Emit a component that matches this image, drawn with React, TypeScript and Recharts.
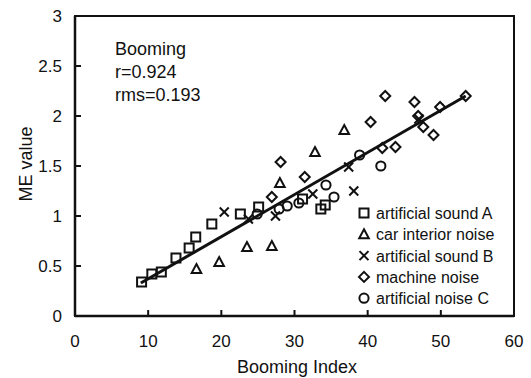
import React from 'react';
import { ScatterChart, Scatter, XAxis, YAxis, ReferenceLine, ReferenceArea } from 'recharts';

const seriesNames = ['artificial sound A', 'car interior noise', 'artificial sound B', 'machine noise', 'artificial noise C'];

const soundA: [number, number][] = [
  [9.1, 0.34], [10.5, 0.42], [11.8, 0.44], [13.8, 0.58], [15.6, 0.68], [16.5, 0.79],
  [18.7, 0.92], [22.6, 1.02], [25.1, 1.09], [31.1, 1.17], [33.6, 1.07], [34.2, 1.11],
];
const carInterior: [number, number][] = [
  [16.6, 0.47], [19.7, 0.54], [23.5, 0.69], [26.9, 0.70], [28.0, 1.33], [32.8, 1.64], [36.8, 1.86],
];
const soundB: [number, number][] = [
  [20.4, 1.04], [23.7, 0.97], [27.4, 1.00], [32.5, 1.22], [37.4, 1.49], [38.1, 1.25], [47.0, 1.97],
];
const machine: [number, number][] = [
  [26.9, 1.19], [28.1, 1.54], [31.4, 1.39], [40.4, 1.94], [42.0, 1.68], [43.8, 1.69], [42.4, 2.20],
  [46.4, 2.14], [46.9, 2.00], [47.6, 1.89], [49.0, 1.81], [49.9, 2.09], [53.4, 2.20],
];
const noiseC: [number, number][] = [
  [24.9, 1.02], [27.9, 1.07], [29.0, 1.10], [30.6, 1.13], [34.3, 1.31], [35.4, 1.19], [38.9, 1.61], [41.8, 1.50],
];

const fitX = [9.0, 53.4];
const fitY = [0.33, 2.2];

const xTicks = [0, 10, 20, 30, 40, 50, 60];
const yTicks = [0, 0.5, 1, 1.5, 2, 2.5, 3];

const annotation = ['Booming', 'r=0.924', 'rms=0.193'];

const toData = (arr: [number, number][]) => arr.map(([x, y]) => ({ x, y }));

const INK = '#111';
const FONT = 'Arial, "Liberation Sans", sans-serif';

type ShapeKind = 'square' | 'triangle' | 'cross' | 'diamond' | 'circle';
const kinds: ShapeKind[] = ['square', 'triangle', 'cross', 'diamond', 'circle'];

function Marker({ kind, cx, cy }: { kind: ShapeKind; cx: number; cy: number }) {
  const sw = 2;
  switch (kind) {
    case 'square':
      return <rect x={cx - 4.5} y={cy - 4.5} width={9} height={9} fill="none" stroke={INK} strokeWidth={sw} />;
    case 'triangle':
      return (
        <polygon
          points={`${cx},${cy - 5} ${cx + 4.8},${cy + 4} ${cx - 4.8},${cy + 4}`}
          fill="none"
          stroke={INK}
          strokeWidth={sw}
          strokeLinejoin="miter"
        />
      );
    case 'cross':
      return (
        <g stroke={INK} strokeWidth={sw}>
          <line x1={cx - 4.5} y1={cy - 4.5} x2={cx + 4.5} y2={cy + 4.5} />
          <line x1={cx - 4.5} y1={cy + 4.5} x2={cx + 4.5} y2={cy - 4.5} />
        </g>
      );
    case 'diamond':
      return (
        <polygon
          points={`${cx},${cy - 5} ${cx + 5},${cy} ${cx},${cy + 5} ${cx - 5},${cy}`}
          fill="none"
          stroke={INK}
          strokeWidth={sw}
        />
      );
    case 'circle':
    default:
      return <circle cx={cx} cy={cy} r={4.6} fill="none" stroke={INK} strokeWidth={sw} />;
  }
}

const makeShape = (kind: ShapeKind) => (props: any) => {
  const { cx, cy } = props;
  if (cx == null || cy == null) return <g />;
  return <Marker kind={kind} cx={cx} cy={cy} />;
};

const XTick = (props: any) => {
  const { x, y, payload } = props;
  return (
    <g>
      <line x1={x} y1={y} x2={x} y2={y - 6} stroke={INK} strokeWidth={2} />
      <text x={x} y={y + 31} textAnchor="middle" fontSize={17} fontFamily={FONT} fill={INK}>
        {payload.value}
      </text>
    </g>
  );
};

const YTick = (props: any) => {
  const { x, y, payload } = props;
  return (
    <g>
      <line x1={x} y1={y} x2={x + 6} y2={y} stroke={INK} strokeWidth={2} />
      <text x={x - 13} y={y + 6} textAnchor="end" fontSize={17} fontFamily={FONT} fill={INK}>
        {payload.value}
      </text>
    </g>
  );
};

const allSeries = [soundA, carInterior, soundB, machine, noiseC];

export default function App() {
  return (
    <div style={{ position: 'absolute', left: 0, top: 0, width: 531, height: 378, background: '#fff' }}>
      <ScatterChart width={531} height={378} margin={{ top: 16, right: 17, bottom: 32, left: 35 }}>
        <XAxis
          type="number"
          dataKey="x"
          domain={[0, 60]}
          ticks={xTicks}
          height={30}
          tickSize={0}
          tickMargin={0}
          tickLine={false}
          axisLine={{ stroke: INK, strokeWidth: 2.5 }}
          tick={<XTick />}
          interval={0}
          allowDataOverflow
        />
        <YAxis
          type="number"
          dataKey="y"
          domain={[0, 3]}
          ticks={yTicks}
          width={40}
          tickSize={0}
          tickMargin={0}
          tickLine={false}
          axisLine={{ stroke: INK, strokeWidth: 2.5 }}
          tick={<YTick />}
          interval={0}
          allowDataOverflow
        />
        <ReferenceArea x1={0} x2={60} y1={0} y2={3} fill="none" fillOpacity={0} stroke={INK} strokeWidth={2} />
        <ReferenceLine
          segment={[{ x: fitX[0], y: fitY[0] }, { x: fitX[1], y: fitY[1] }]}
          stroke={INK}
          strokeWidth={3}
        />
        {allSeries.map((s, i) => (
          <Scatter
            key={seriesNames[i]}
            name={seriesNames[i]}
            data={toData(s)}
            shape={makeShape(kinds[i])}
            isAnimationActive={false}
          />
        ))}
      </ScatterChart>
      <svg
        width={531}
        height={378}
        style={{ position: 'absolute', left: 0, top: 0, pointerEvents: 'none' }}
      >
        {annotation.map((t, i) => (
          <text key={t} x={115} y={55 + i * 23} fontSize={18} fontFamily={FONT} fill={INK}>
            {t}
          </text>
        ))}
        <text
          x={0}
          y={0}
          transform="translate(32,164) rotate(-90)"
          textAnchor="middle"
          fontSize={18}
          fontFamily={FONT}
          fill={INK}
        >
          ME value
        </text>
        <text x={297} y={373} textAnchor="middle" fontSize={18} fontFamily={FONT} fill={INK}>
          Booming Index
        </text>
        <rect x={356} y={202} width={150} height={106} fill="#fff" />
        {seriesNames.map((n, i) => (
          <g key={n}>
            <Marker kind={kinds[i]} cx={364} cy={213 + i * 21.3} />
            <text x={376} y={213 + i * 21.3 + 6} fontSize={16} fontFamily={FONT} fill={INK}>
              {n}
            </text>
          </g>
        ))}
      </svg>
    </div>
  );
}
